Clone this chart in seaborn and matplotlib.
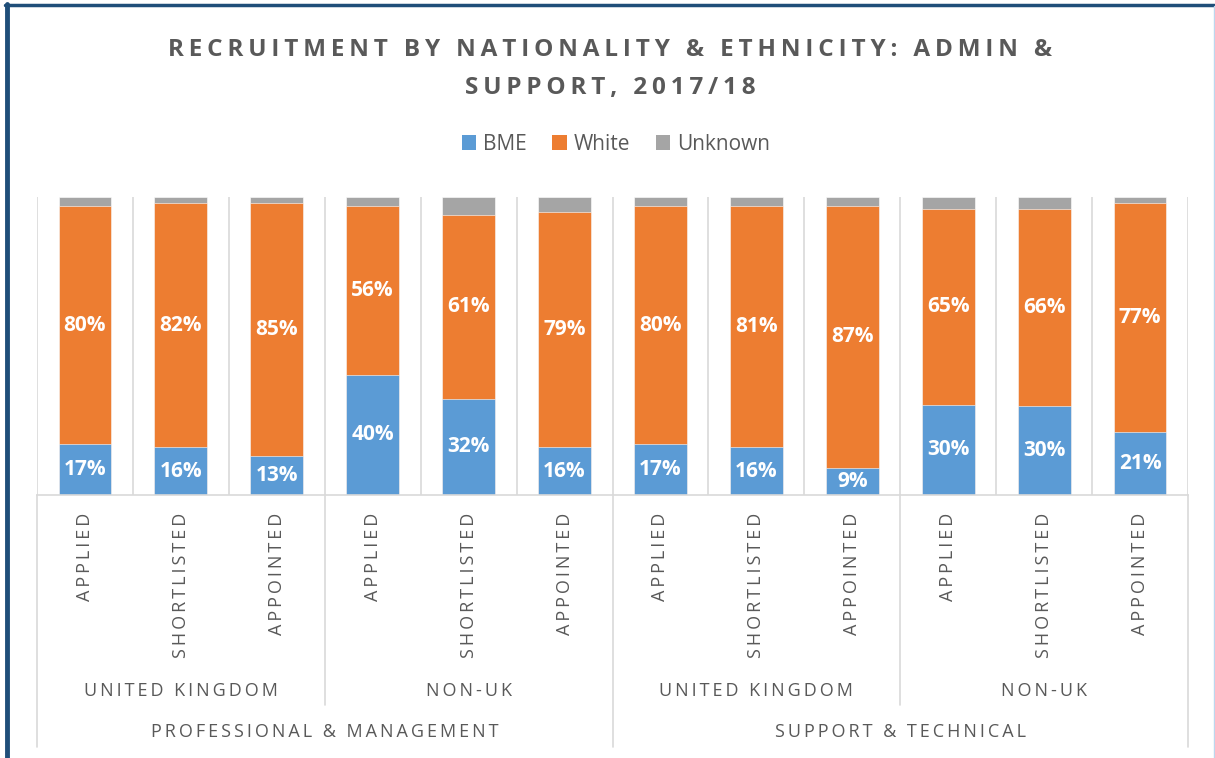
import seaborn as sns
import matplotlib.pyplot as plt
import matplotlib.transforms as mtrans
from matplotlib.lines import Line2D
from matplotlib.patches import Patch
import pandas as pd
import numpy as np

# values (percent of each bar)
job_groups = ['PROFESSIONAL & MANAGEMENT', 'SUPPORT & TECHNICAL']
nationalities = ['UNITED KINGDOM', 'NON-UK']
stages = ['APPLIED', 'SHORTLISTED', 'APPOINTED']
bme = [17, 16, 13, 40, 32, 16, 17, 16, 9, 30, 30, 21]
white = [80, 82, 85, 56, 61, 79, 80, 81, 87, 65, 66, 77]
unknown = [3, 2, 2, 3, 6, 5, 3, 3, 3, 4, 4, 2]
title_lines = ['RECRUITMENT BY NATIONALITY & ETHNICITY: ADMIN &', 'SUPPORT, 2017/18']

BLUE, ORANGE, GREY = '#5B9BD5', '#ED7D31', '#A5A5A5'
TXT = '#595959'
GRID = '#D9D9D9'
FONT = ['Open Sans', 'DejaVu Sans']


def spaced(s, sep='\u2009'):
    # rough letter-spacing like the original
    return (sep + ' ' + sep).join(sep.join(w) for w in s.split(' '))


rows = []
for j, jg in enumerate(job_groups):
    for n, nat in enumerate(nationalities):
        for s, st in enumerate(stages):
            rows.append({'key': f'{j}-{n}-{s}', 'stage': st})
df = pd.DataFrame(rows)
total = np.array(bme) + np.array(white) + np.array(unknown)
df['bme'] = np.array(bme) / total * 100
df['white'] = np.array(white) / total * 100
df['unknown'] = np.array(unknown) / total * 100
df['top_white'] = df['bme'] + df['white']
df['top_unknown'] = df['top_white'] + df['unknown']

sns.set_theme(style='white')
plt.rcParams['font.family'] = FONT

W, H = 1215, 758
fig = plt.figure(figsize=(W / 100, H / 100), dpi=100)
ax = fig.add_axes([37 / W, 1 - 495 / H, (1188 - 37) / W, 298 / H])

order = list(df['key'])
for col, c in [('top_unknown', GREY), ('top_white', ORANGE), ('bme', BLUE)]:
    sns.barplot(data=df, x='key', y=col, order=order, color=c, width=0.55,
                saturation=1, edgecolor='white', linewidth=0.4, ax=ax, zorder=2)

ax.set_xlim(-0.5, 11.5)
ax.set_ylim(0, 100)
ax.vlines(np.arange(-0.5, 12), 0, 100, color=GRID, lw=1.2, zorder=1)
for sp in ['left', 'right', 'top']:
    ax.spines[sp].set_visible(False)
ax.spines['bottom'].set_color(GRID)
ax.spines['bottom'].set_linewidth(1.2)
ax.set_yticks([])
ax.set_xlabel('')
ax.set_ylabel('')
ax.set_xticks(range(12))
ax.set_xticklabels([spaced(s) for s in df['stage']], rotation=90, va='top',
                   fontsize=13, color=TXT)
ax.tick_params(axis='x', length=0, pad=13)

# data labels
for i, r in df.iterrows():
    ax.text(i, r['bme'] / 2, f"{bme[i]}%", ha='center', va='center',
            color='white', fontsize=15, fontweight='bold')
    ax.text(i, r['bme'] + r['white'] / 2, f"{white[i]}%", ha='center',
            va='center', color='white', fontsize=15, fontweight='bold')

# multi-level category labels below the axis
tr = mtrans.blended_transform_factory(ax.transData, fig.transFigure)
for k, nat in enumerate(nationalities * 2):
    ax.text(1 + 3 * k, 1 - 691 / H, spaced(nat), transform=tr, ha='center',
            va='center', fontsize=13, color=TXT)
for k, jg in enumerate(job_groups):
    ax.text(2.5 + 6 * k, 1 - 732 / H, spaced(jg), transform=tr, ha='center',
            va='center', fontsize=13, color=TXT)
for x, y_end in [(-0.5, 747), (2.5, 705), (5.5, 747), (8.5, 705), (11.5, 747)]:
    ax.add_line(Line2D([x, x], [1 - 495 / H, 1 - y_end / H], transform=tr,
                       color=GRID, lw=1.2, clip_on=False))

# title, two lines placed separately (baseline positions)
for line, y in zip(title_lines, [56, 94]):
    fig.text(610 / W, 1 - y / H, spaced(line), ha='center', va='baseline',
             fontsize=17.5, fontweight='bold', color=TXT)

# legend
handles = [Patch(facecolor=c, edgecolor='none') for c in (BLUE, ORANGE, GREY)]
fig.legend(handles, ['BME', 'White', 'Unknown'], loc='center',
           bbox_to_anchor=(616 / W, 1 - 144 / H), ncol=3, frameon=False,
           fontsize=15, handlelength=0.7, handleheight=0.7,
           handletextpad=0.35, columnspacing=1.2, labelcolor=TXT)

# chart frame
fig.add_artist(Line2D([7 / W, 7 / W], [0, 1 - 4 / H], color='#1F4E79', lw=3.5))
fig.add_artist(Line2D([5 / W, 1214 / W], [1 - 5 / H, 1 - 5 / H], color='#1F4E79', lw=2.5))
fig.add_artist(Line2D([1214 / W, 1214 / W], [0, 1 - 6 / H], color='#BDD7EE', lw=1))

fig.savefig('out.png', dpi=100)
plt.close(fig)
